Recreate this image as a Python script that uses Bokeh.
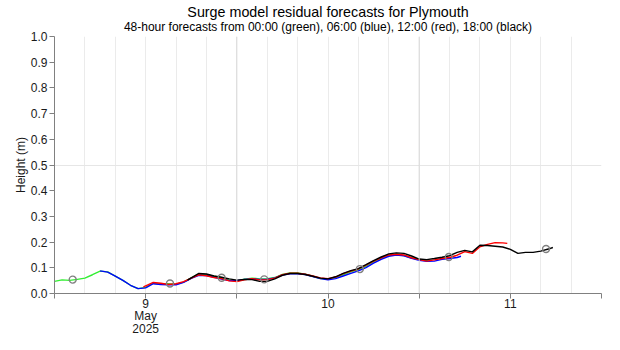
from bokeh.plotting import figure
from bokeh.models import FixedTicker, Title, PrintfTickFormatter, Span
from bokeh.embed import file_html
from bokeh.resources import INLINE

# time in hours after 2025-05-08 00:00
green_t = [12, 13, 14, 15, 16, 17, 18, 19, 20, 21, 22, 23, 24, 25, 26, 27, 28, 29, 30,
           31, 32, 33, 34, 35, 36, 37, 38, 39, 40, 41, 42, 43, 44, 45, 46, 47, 48, 49,
           50, 51, 52, 53, 54, 55, 56, 57, 58, 59, 60, 61, 61.5]
green_v = [0.047, 0.053, 0.051, 0.055, 0.060, 0.073, 0.087, 0.084, 0.068, 0.051, 0.032,
           0.019, 0.024, 0.040, 0.037, 0.038, 0.036, 0.044, 0.061, 0.075, 0.073, 0.067,
           0.062, 0.052, 0.048, 0.056, 0.060, 0.057, 0.058, 0.062, 0.074, 0.080, 0.080,
           0.075, 0.067, 0.058, 0.056, 0.062, 0.073, 0.084, 0.093, 0.106, 0.123, 0.137,
           0.148, 0.152, 0.148, 0.138, 0.132, 0.128, 0.128]

blue_t = [18, 19, 20, 21, 22, 23, 24, 25, 26, 27, 28, 29, 30, 31, 32, 33, 34, 35, 36,
          37, 38, 39, 40, 41, 42, 43, 44, 45, 46, 47, 48, 49, 50, 51, 52, 53, 54, 55,
          56, 57, 58, 59, 60, 61, 62, 63, 64, 65, 65.5]
blue_v = [0.088, 0.083, 0.068, 0.051, 0.032, 0.019, 0.022, 0.038, 0.035, 0.034, 0.034,
          0.043, 0.059, 0.071, 0.070, 0.063, 0.056, 0.050, 0.050, 0.055, 0.057, 0.055,
          0.056, 0.061, 0.072, 0.077, 0.077, 0.074, 0.066, 0.058, 0.053, 0.058, 0.068,
          0.078, 0.088, 0.101, 0.118, 0.133, 0.145, 0.150, 0.147, 0.137, 0.129, 0.125,
          0.126, 0.133, 0.136, 0.140, 0.145]

red_t = [23.7, 24, 25, 26, 27, 28, 29, 30, 31, 32, 33, 34, 35, 36, 37, 38, 39, 40, 41,
         42, 43, 44, 45, 46, 47, 48, 49, 50, 51, 52, 53, 54, 55, 56, 57, 58, 59, 60,
         61, 62, 63, 64, 65, 66, 67, 68, 69, 70, 71, 71.6]
red_v = [0.026, 0.030, 0.043, 0.040, 0.035, 0.038, 0.046, 0.060, 0.073, 0.069, 0.062,
         0.058, 0.049, 0.046, 0.053, 0.058, 0.053, 0.054, 0.060, 0.073, 0.079, 0.079,
         0.075, 0.068, 0.061, 0.058, 0.064, 0.077, 0.087, 0.096, 0.110, 0.126, 0.139,
         0.150, 0.153, 0.150, 0.139, 0.132, 0.126, 0.131, 0.136, 0.140, 0.149, 0.163,
         0.156, 0.182, 0.191, 0.198, 0.197, 0.195]

black_t = [29.5, 30, 31, 32, 33, 34, 35, 36, 37, 38, 39, 40, 41, 42, 43, 44, 45, 46, 47,
           48, 49, 50, 51, 52, 53, 54, 55, 56, 57, 58, 59, 60, 61, 62, 63, 64, 65, 66,
           67, 68, 69, 70, 71, 72, 73, 74, 75, 76, 77, 77.6]
black_v = [0.052, 0.061, 0.078, 0.076, 0.068, 0.063, 0.057, 0.052, 0.055, 0.054, 0.047,
           0.047, 0.057, 0.071, 0.078, 0.078, 0.074, 0.067, 0.060, 0.057, 0.065, 0.078,
           0.089, 0.097, 0.112, 0.128, 0.142, 0.154, 0.158, 0.156, 0.146, 0.134, 0.132,
           0.136, 0.141, 0.147, 0.160, 0.168, 0.162, 0.188, 0.187, 0.184, 0.181, 0.172,
           0.156, 0.160, 0.160, 0.165, 0.173, 0.179]

obs_t = [14.4, 27.2, 34.0, 39.6, 52.2, 63.9, 76.7]
obs_v = [0.054, 0.039, 0.061, 0.055, 0.095, 0.142, 0.173]

x_ticks = [12, 24, 36, 48, 60, 72, 84]
x_tick_labels = ["", "9\nMay\n2025", "", "10", "", "11", ""]
y_ticks = [0.0, 0.1, 0.2, 0.3, 0.4, 0.5, 0.6, 0.7, 0.8, 0.9, 1.0]

FONT = "Liberation Sans"

p = figure(frame_width=547, frame_height=257, x_range=(12, 84), y_range=(0, 1),
           output_backend="svg", toolbar_location=None,
           min_border_left=54, min_border_right=19, min_border_top=36, min_border_bottom=57)
p.outline_line_color = None
p.background_fill_color = "white"
p.border_fill_color = "white"

p.add_layout(Title(text="48-hour forecasts from 00:00 (green), 06:00 (blue), 12:00 (red), 18:00 (black)",
                   align="center", text_font=FONT, text_font_size="12px",
                   text_font_style="normal", text_color="#000000", standoff=5, offset=0), "above")
p.add_layout(Title(text="Surge model residual forecasts for Plymouth",
                   align="center", text_font=FONT, text_font_size="14.3px",
                   text_font_style="normal", text_color="#000000", standoff=-8), "above")

# grids
p.xgrid.ticker = FixedTicker(ticks=list(range(12, 85, 4)))
p.xgrid.grid_line_color = "#ebebeb"
p.xgrid.grid_line_width = 1
p.ygrid.ticker = FixedTicker(ticks=[0.5, 1.0])
p.ygrid.grid_line_color = "#e6e6e6"
for tt in (36, 60):
    p.add_layout(Span(location=tt, dimension="height", line_color="#d9d9d9", line_width=1))

# axes
xa = p.xaxis[0]
xa.ticker = FixedTicker(ticks=x_ticks)
xa.major_label_overrides = {t: l for t, l in zip(x_ticks, x_tick_labels)}
xa.minor_tick_line_color = None
xa.major_tick_out = 5
xa.major_tick_in = 0
xa.axis_line_color = "#808080"
xa.major_tick_line_color = "#808080"
xa.major_label_text_font = FONT
xa.major_label_text_font_size = "12px"
xa.major_label_text_color = "#1a1a1a"
xa.major_label_text_line_height = 0.9
xa.major_label_standoff = -2

ya = p.yaxis[0]
ya.ticker = FixedTicker(ticks=y_ticks)
ya.formatter = PrintfTickFormatter(format="%.1f")
ya.minor_tick_line_color = None
ya.major_tick_out = 5
ya.major_tick_in = 0
ya.axis_line_color = "#808080"
ya.major_tick_line_color = "#808080"
ya.major_label_text_font = FONT
ya.major_label_text_font_size = "12px"
ya.major_label_text_color = "#1a1a1a"
ya.major_label_standoff = 2
ya.axis_label = "Height (m)"
ya.axis_label_text_font = FONT
ya.axis_label_text_font_size = "12px"
ya.axis_label_text_font_style = "normal"
ya.axis_label_text_color = "#1a1a1a"
ya.axis_label_standoff = 0

lw = 1.4
p.line(green_t, green_v, line_color="#33ee33", line_width=lw)
p.line(blue_t, blue_v, line_color="#0000ff", line_width=lw)
p.line(red_t, red_v, line_color="#ff0000", line_width=lw)
p.line(black_t, black_v, line_color="#000000", line_width=lw)
p.scatter(obs_t, obs_v, size=7, marker="circle", fill_color=None,
          line_color="#808080", line_width=1.4)

open("out.html", "w").write(file_html(p, INLINE))
